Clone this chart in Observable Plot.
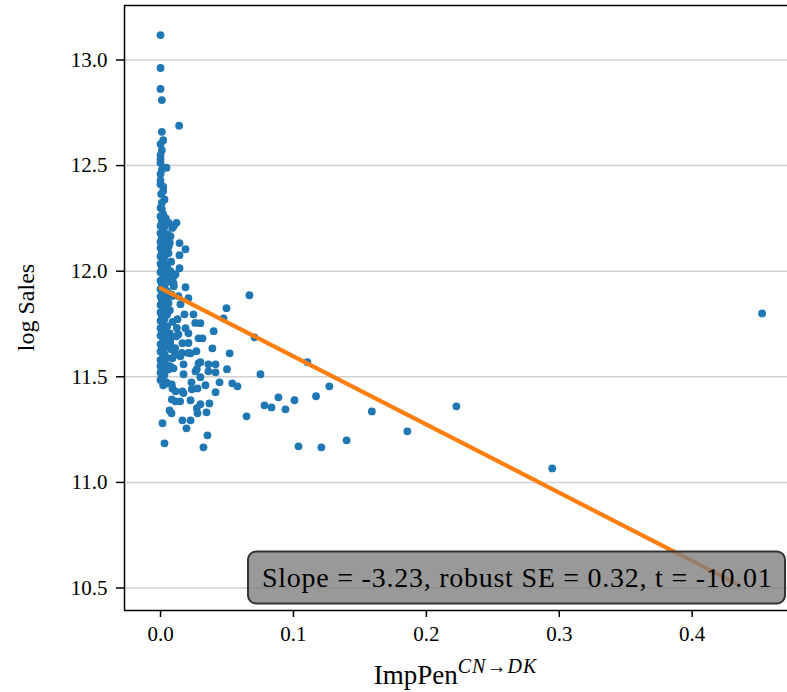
<!DOCTYPE html>
<html><head><meta charset="utf-8">
<script src="https://cdn.jsdelivr.net/npm/d3@7"></script>
<script src="https://cdn.jsdelivr.net/npm/@observablehq/plot@0.6"></script>
<style>
html,body{margin:0;padding:0;background:#fff;overflow:hidden;}
svg{display:block;}
</style>
</head><body><div id="chart"></div>
<script>
// ImpPen^{CN->DK} (x) and log Sales (y)
const impPen = [
  0.000, 0.000, 0.000, 0.001, 0.014, 0.001, 0.000, 0.001, 0.000, 0.000,
  0.0045, 0.000, 0.000, 0.002, 0.0005, 0.001, 0.001, 0.002, 0.012, 0.010,
  0.0088, 0.0075, 0.0143, 0.0188, 0.0143, 0.0062, 0.005, 0.0025, 0.0143, 0.0113,
  0.0075, 0.010, 0.0098, 0.0188, 0.021, 0.0135, 0.015, 0.018, 0.0248, 0.030,
  0.0128, 0.0188, 0.021, 0.040, 0.0496, 0.0474, 0.0669, 0.012, 0.0165, 0.0286,
  0.0316, 0.0075, 0.0226, 0.039, 0.052, 0.0707, 0.015, 0.0286, 0.036, 0.0414,
  0.009, 0.0098, 0.0173, 0.0173, 0.0263, 0.036, 0.0414, 0.050, 0.0752, 0.1105,
  0.030, 0.0233, 0.0278, 0.0338, 0.0444, 0.054, 0.0579, 0.0023, 0.0053, 0.009,
  0.0113, 0.0165, 0.0226, 0.030, 0.0368, 0.0414, 0.0113, 0.0068, 0.0083, 0.0165,
  0.0226, 0.0195, 0.0278, 0.0346, 0.0015, 0.003, 0.0353, 0.0323, 0.127, 0.0887,
  0.1008, 0.117, 0.0782, 0.0835, 0.094, 0.0647, 0.1038, 0.121, 0.140, 0.159,
  0.1857, 0.2226, 0.2947, 0.4526, 0.030, 0.0261, 0.0123, 0.0135, 0.0073, 0.021,
  0.011, 0.016, 0.027, 0.0073, 0.011, 0.021, 0.0073, 0.0273, 0.0085, 0.0173,
  0.0235, 0.0085, 0.0148, 0.0273, 0.0088, 0.010, 0.003, 0.000, 0.002, 0.000,
  0.001, 0.000, 0.002,
  // dense column near zero
  0.000, 0.004, 0.001, 0.006, 0.000, 0.003, 0.002, 0.000, 0.005, 0.001,
  0.003, 0.000, 0.007, 0.002, 0.000, 0.004, 0.001, 0.006, 0.000, 0.003,
  0.002, 0.008, 0.000, 0.005, 0.001, 0.003, 0.000, 0.006, 0.002, 0.004,
  0.000, 0.007, 0.001, 0.003, 0.000, 0.005, 0.002, 0.008, 0.000, 0.004,
  0.001, 0.006, 0.000, 0.003, 0.002, 0.007, 0.000, 0.005, 0.001, 0.003,
  0.000, 0.009, 0.002, 0.005, 0.000, 0.004, 0.001, 0.007, 0.000, 0.003,
  0.002, 0.006, 0.000, 0.004, 0.001, 0.008, 0.000, 0.003, 0.002, 0.005,
  0.000, 0.001, 0.004, 0.000, 0.002, 0.006, 0.000, 0.003, 0.001, 0.000,
  0.004, 0.002
];
const logSales = [
  13.118, 12.962, 12.863, 12.810, 12.689, 12.660, 12.602, 12.573, 12.550, 12.512,
  12.490, 12.460, 12.412, 12.400, 12.365, 12.324, 12.294, 12.270, 12.229, 12.214,
  12.205, 12.166, 12.133, 12.104, 12.076, 12.118, 12.087, 12.039, 12.014, 11.986,
  12.000, 11.976, 11.943, 11.924, 11.872, 11.882, 11.844, 11.796, 11.796, 11.754,
  11.773, 11.730, 11.706, 11.716, 11.825, 11.777, 11.886, 11.692, 11.659, 11.682,
  11.682, 11.645, 11.611, 11.635, 11.611, 11.687, 11.597, 11.564, 11.559, 11.559,
  11.588, 11.540, 11.559, 11.512, 11.526, 11.526, 11.521, 11.536, 11.512, 11.569,
  11.498, 11.474, 11.445, 11.460, 11.474, 11.469, 11.455, 11.464, 11.469, 11.445,
  11.431, 11.431, 11.389, 11.370, 11.374, 11.427, 11.384, 11.341, 11.327, 11.294,
  11.294, 11.256, 11.327, 11.332, 11.280, 11.185, 11.223, 11.166, 11.455, 11.403,
  11.389, 11.408, 11.365, 11.355, 11.346, 11.313, 11.171, 11.166, 11.199, 11.336,
  11.242, 11.360, 11.066, 11.800, 11.569, 11.755, 11.731, 11.701, 11.678, 11.660,
  11.636, 11.613, 11.621, 11.660, 11.607, 11.613, 11.550, 11.536, 11.464, 11.423,
  11.441, 11.393, 11.384, 11.352, 11.882, 11.929, 12.340, 12.300, 12.380, 12.430,
  12.480, 12.530, 12.620,
  // dense column near zero
  12.260, 12.250, 12.240, 12.230, 12.215, 12.210, 12.190, 12.180, 12.175, 12.160,
  12.150, 12.140, 12.135, 12.125, 12.110, 12.100, 12.090, 12.085, 12.070, 12.065,
  12.050, 12.045, 12.035, 12.025, 12.015, 12.005, 11.995, 11.990, 11.980, 11.965,
  11.955, 11.950, 11.940, 11.925, 11.915, 11.905, 11.895, 11.890, 11.880, 11.870,
  11.860, 11.850, 11.840, 11.830, 11.820, 11.815, 11.805, 11.795, 11.785, 11.775,
  11.765, 11.760, 11.750, 11.740, 11.730, 11.720, 11.710, 11.705, 11.695, 11.685,
  11.675, 11.665, 11.655, 11.645, 11.635, 11.630, 11.620, 11.610, 11.600, 11.590,
  11.580, 11.570, 11.560, 11.550, 11.540, 11.535, 11.520, 11.510, 11.500, 11.485,
  11.475, 11.460
];
const xTicks = [0.0, 0.1, 0.2, 0.3, 0.4];
const yTicks = [10.5, 11.0, 11.5, 12.0, 12.5, 13.0];
const xDomain = [-0.0271, 0.4717];
const yDomain = [10.3935, 13.258];
const fitIntercept = 11.92;
const fitSlope = -3.23;
const fitRange = [0, 0.434];
const annotation = "Slope = -3.23, robust SE = 0.32, t = -10.01";
const xLabel = "ImpPen";
const xLabelSup = "CN\u2192DK";
const yLabel = "log Sales";

const points = impPen.map((x, i) => ({x, y: logSales[i]}));
const fit = fitRange.map(x => ({x, y: fitIntercept + fitSlope * x}));
const FONT = "'Liberation Serif', 'DejaVu Serif', serif";

const plot = Plot.plot({
  width: 787, height: 692,
  marginLeft: 124, marginRight: 0, marginTop: 5, marginBottom: 82,
  style: {fontFamily: FONT, background: "white", color: "black"},
  x: {domain: xDomain},
  y: {domain: yDomain},
  marks: [
    Plot.gridY(yTicks, {stroke: "#d0d0d0", strokeOpacity: 1, strokeWidth: 1.5}),
    Plot.dot(points, {x: "x", y: "y", r: 3.9, fill: "#1f77b4"}),
    Plot.line(fit, {x: "x", y: "y", stroke: "#ff7f0e", strokeWidth: 4.2}),
    Plot.ruleX([xDomain[0]], {stroke: "black", strokeWidth: 1.5}),
    Plot.ruleY([yDomain[0], yDomain[1]], {stroke: "black", strokeWidth: 1.5}),
    Plot.axisX(xTicks, {tickSize: 7, tickPadding: 9, tickFormat: d3.format(".1f"), fontSize: 21, label: null, strokeWidth: 1.5}),
    Plot.axisY(yTicks, {tickSize: 8, tickPadding: 9, tickFormat: d3.format(".1f"), fontSize: 21, label: null, strokeWidth: 1.5}),
    Plot.text([annotation], {frameAnchor: "bottom-right", textAnchor: "end", dx: -15, dy: -24, fontSize: 28, fill: "black"})
  ]
});
document.getElementById("chart").appendChild(plot);

const svg = d3.select(plot);
// rounded, semi-transparent box behind the annotation
const annText = Array.from(plot.querySelectorAll("text")).find(t => t.textContent === annotation);
if (annText) {
  annText.style.letterSpacing = "0.75px";
  const sb = plot.getBoundingClientRect();
  const bb = annText.getBoundingClientRect();
  const g = annText.closest("g");
  const rect = document.createElementNS("http://www.w3.org/2000/svg", "rect");
  const left = bb.left - sb.left - 14;
  rect.setAttribute("x", left);
  rect.setAttribute("y", bb.top - sb.top - 10);
  rect.setAttribute("width", 785 - left);
  rect.setAttribute("height", bb.height + 21);
  rect.setAttribute("rx", 8);
  rect.setAttribute("fill", "#808080");
  rect.setAttribute("fill-opacity", 0.8);
  rect.setAttribute("stroke", "#333");
  rect.setAttribute("stroke-width", 2);
  g.parentNode.insertBefore(rect, g);
}
const xr = plot.scale("x").range;
const yr = plot.scale("y").range;
// x label with superscript
const xl = svg.append("text")
  .attr("x", (xr[0] + xr[1]) / 2).attr("y", 684)
  .attr("text-anchor", "middle").attr("font-size", 27).attr("fill", "black")
  .style("font-family", FONT);
xl.append("tspan").text(xLabel);
xl.append("tspan").attr("dy", -11).attr("font-size", 20).attr("font-style", "italic")
  .style("letter-spacing", "1px").text(xLabelSup);
// y label
svg.append("text")
  .attr("transform", `translate(34,${(yr[0] + yr[1]) / 2}) rotate(-90)`)
  .attr("text-anchor", "middle").attr("font-size", 24).attr("fill", "black")
  .style("font-family", FONT)
  .text(yLabel);
</script>
</body></html>
